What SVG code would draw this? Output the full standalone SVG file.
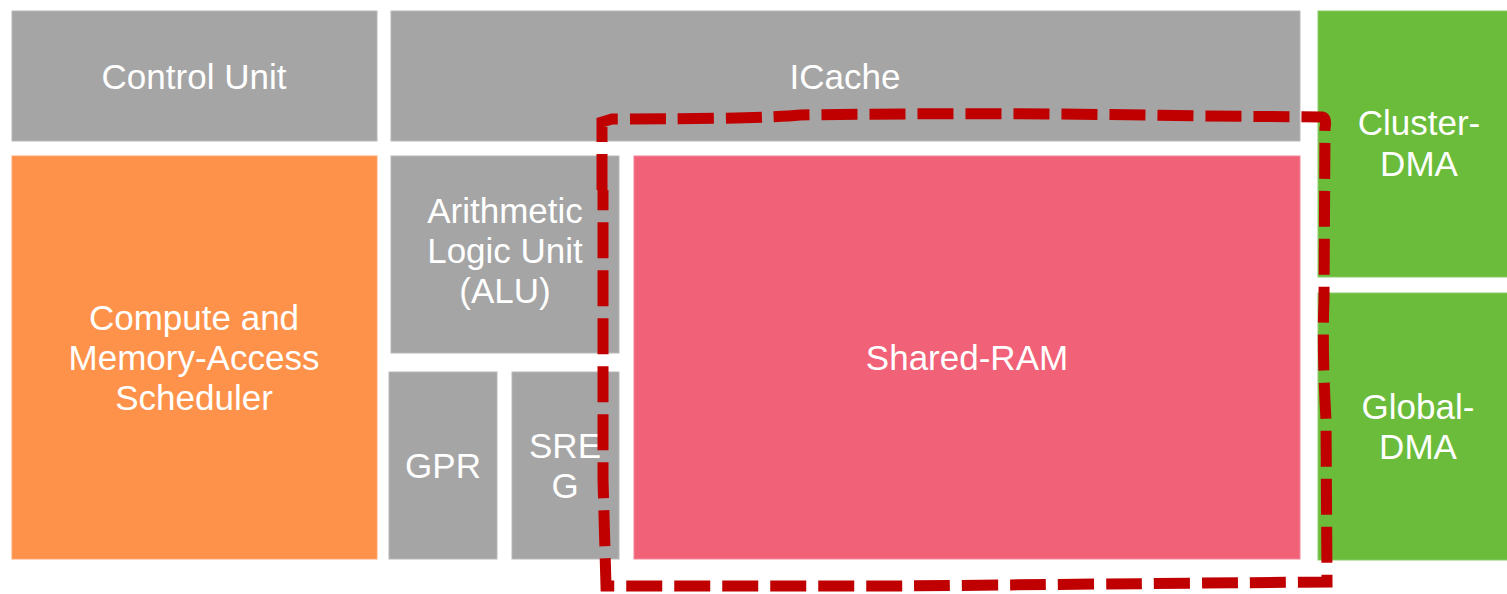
<svg xmlns="http://www.w3.org/2000/svg" width="1507" height="594" viewBox="0 0 1507 594">
<style>
.gray{fill:#A5A5A5;stroke:#B8B8B8;stroke-width:1}
.orange{fill:#FE924A;stroke:#FFA66E;stroke-width:1}
.pink{fill:#F16177;stroke:#F5879A;stroke-width:1}
.green{fill:#6ABC3A;stroke:#8CCB66;stroke-width:1}
text{font-family:"Liberation Sans",Arial,Helvetica,sans-serif;font-size:35px;fill:#FFFFFF;text-anchor:middle}
.dash{fill:none;stroke:#C00000;stroke-width:11;stroke-dasharray:36 12;stroke-linejoin:miter}
</style>
<rect width="1507" height="594" fill="#FFFFFF"/>
<g id="control-unit"><rect class="gray" x="12" y="11" width="365" height="130"/><text x="194" y="89">Control Unit</text></g>
<g id="icache"><rect class="gray" x="391" y="11" width="909" height="130"/><text x="845" y="89">ICache</text></g>
<g id="scheduler"><rect class="orange" x="12" y="156" width="365" height="403"/><text x="194" y="330">Compute and</text><text x="194" y="370">Memory-Access</text><text x="194" y="410">Scheduler</text></g>
<g id="alu"><rect class="gray" x="391" y="156" width="228" height="197"/><text x="505" y="223">Arithmetic</text><text x="505" y="263">Logic Unit</text><text x="505" y="303">(ALU)</text></g>
<g id="gpr"><rect class="gray" x="389" y="372" width="108" height="187"/><text x="443" y="478">GPR</text></g>
<g id="sreg"><rect class="gray" x="512" y="372" width="107" height="187"/><text x="565" y="458">SRE</text><text x="565" y="498">G</text></g>
<g id="shared-ram"><rect class="pink" x="634" y="156" width="666" height="403"/><text x="967" y="370">Shared-RAM</text></g>
<g id="cluster-dma"><rect class="green" x="1318" y="11" width="200" height="266"/><text x="1419" y="135">Cluster-</text><text x="1419" y="176">DMA</text></g>
<g id="global-dma"><rect class="green" x="1318" y="293" width="200" height="267"/><text x="1418" y="419">Global-</text><text x="1418" y="459">DMA</text></g>
<g id="connectors">
<path class="dash" d="M 602 190 L 602 122 L 612 119 Q 760 119 800 115 Q 1000 112 1200 116 L 1322 117 Q 1327 118 1325 128 L 1324 300 Q 1322 350 1326 420 L 1327 582 Q 1100 584 900 586 L 606 586 L 603 480 L 603 190"/>
</g>
</svg>
